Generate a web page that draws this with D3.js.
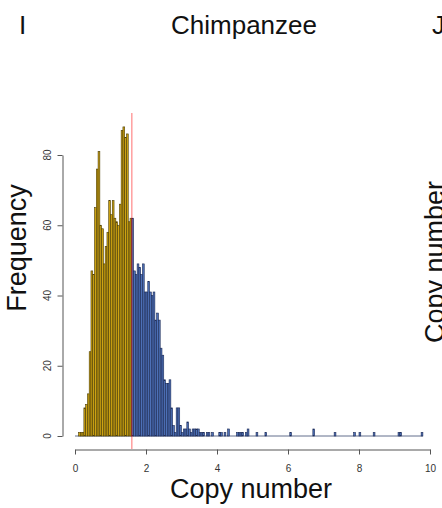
<!DOCTYPE html>
<html>
<head>
<meta charset="utf-8">
<script src="https://cdn.jsdelivr.net/npm/d3@7"></script>
<style>
  html, body { margin: 0; padding: 0; background: #fff; }
  svg { display: block; }
  text { font-family: "Liberation Sans", Arial, Helvetica, sans-serif; }
</style>
</head>
<body>
<div id="chart"></div>
<script>
// ---- Data ----
const panelTitle = "Chimpanzee";
const panelLetter = "I";
const nextPanelLetter = "J";
const xLabel = "Copy number";
const yLabel = "Frequency";
const nextPanelYLabel = "Copy number";

const binWidth = 0.05;          // histogram bin width (copy number units)
const denseStart = 0.0;         // first bin start of the dense block
const threshold = 1.6;          // red line / colour split

// counts for bins 0.00, 0.05, ... 1.55  (below threshold, yellow)
const lowCounts = [0, 0, 1, 1, 1, 8, 9, 12, 24, 47, 46, 65, 76, 81, 60, 59,
                   49, 54, 58, 67, 63, 67, 62, 61, 60, 66, 87, 88, 85, 86, 61, 62];
// counts for bins 1.60, 1.65, ... 4.85 (above threshold, blue)
const highCounts = [62, 47, 46, 49, 48, 46, 49, 41, 41, 44, 41, 40, 41, 33, 35, 33,
                    25, 23, 16, 15, 15, 16, 8, 3, 1, 8, 8, 3, 1, 2, 2, 4,
                    2, 1, 2, 2, 2, 2, 1, 1, 1, 0, 1, 1, 0, 1, 0, 0,
                    0, 1, 1, 0, 1, 0, 2, 0, 0, 0, 0, 1, 1, 1, 1, 0,
                    1, 2];
// sparse tail bins (bin start, count)
const tailBinStarts = [5.10, 5.35, 6.05, 6.70, 7.30, 7.85, 8.00, 8.40, 9.10, 9.15, 9.75];
const tailCounts    = [1, 1, 1, 2, 1, 1, 1, 1, 1, 1, 1];
const dataMax = 9.80;

const xTicks = [0, 2, 4, 6, 8, 10];
const yTicks = [0, 20, 40, 60, 80];

// ---- Build bins ----
const bins = [];
lowCounts.forEach((c, i) => bins.push({ start: denseStart + i * binWidth, count: c }));
highCounts.forEach((c, i) => bins.push({ start: threshold + i * binWidth, count: c }));
tailBinStarts.forEach((s, i) => bins.push({ start: s, count: tailCounts[i] }));

// ---- Layout ----
const W = 442, H = 508;
const svg = d3.select("#chart").append("svg").attr("width", W).attr("height", H);

const x = d3.scaleLinear().domain([0, 10]).range([75, 430]);
const y = d3.scaleLinear().domain([0, 80]).range([436, 155]);

const yellow = "#CDA312", yellowEdge = "#4a3c05";
const blue = "#4D70B7", blueEdge = "#1c2a55";

// baseline of zero-count bins
svg.append("line")
  .attr("x1", x(0)).attr("x2", x(dataMax))
  .attr("y1", y(0)).attr("y2", y(0))
  .attr("stroke", "#3a4a70").attr("stroke-width", 0.8);

// bars
svg.append("g").selectAll("rect")
  .data(bins.filter(d => d.count > 0))
  .join("rect")
  .attr("x", d => x(d.start))
  .attr("width", d => x(d.start + binWidth) - x(d.start))
  .attr("y", d => y(d.count))
  .attr("height", d => y(0) - y(d.count))
  .attr("fill", d => d.start < threshold - 1e-9 ? yellow : blue)
  .attr("stroke", d => d.start < threshold - 1e-9 ? yellowEdge : blueEdge)
  .attr("stroke-width", 0.6);

// threshold line
svg.append("line")
  .attr("x1", x(threshold)).attr("x2", x(threshold))
  .attr("y1", 113).attr("y2", 449)
  .attr("stroke", "red").attr("stroke-opacity", 0.38).attr("stroke-width", 1.5);

// x axis
const xAxis = svg.append("g").attr("transform", "translate(0,449.5)")
  .call(d3.axisBottom(x).tickValues(xTicks).tickFormat(d3.format("d"))
        .tickSize(5).tickSizeOuter(0).tickPadding(10));
xAxis.select(".domain").attr("stroke", "#555");
xAxis.selectAll(".tick line").attr("stroke", "#555");
xAxis.selectAll(".tick text").attr("font-size", 10).attr("fill", "#333")
  .attr("font-family", '"Liberation Sans", Arial, sans-serif');

// y axis
const yAxis = svg.append("g").attr("transform", "translate(62.5,0)")
  .call(d3.axisLeft(y).tickValues(yTicks).tickSize(5).tickSizeOuter(0).tickFormat(""));
yAxis.select(".domain").attr("stroke", "#555");
yAxis.selectAll(".tick line").attr("stroke", "#555");
svg.append("g").selectAll("text")
  .data(yTicks).join("text")
  .attr("transform", d => `translate(47,${y(d)}) rotate(-90)`)
  .attr("text-anchor", "middle").attr("dy", "0.35em")
  .attr("font-size", 10).attr("fill", "#333")
  .text(d => d);

// labels
svg.append("text").attr("x", 244).attr("y", 34).attr("text-anchor", "middle")
  .attr("font-size", 26).attr("fill", "#111").text(panelTitle);
svg.append("text").attr("x", 19).attr("y", 34)
  .attr("font-size", 26).attr("fill", "#111").text(panelLetter);
svg.append("text").attr("x", 432).attr("y", 34)
  .attr("font-size", 26).attr("fill", "#111").text(nextPanelLetter);
svg.append("text").attr("x", 251).attr("y", 498).attr("text-anchor", "middle")
  .attr("font-size", 27).attr("fill", "#111").text(xLabel);
svg.append("text").attr("transform", "translate(26,248) rotate(-90)")
  .attr("text-anchor", "middle")
  .attr("font-size", 27).attr("fill", "#111").text(yLabel);
svg.append("text").attr("transform", "translate(444,262) rotate(-90)")
  .attr("text-anchor", "middle")
  .attr("font-size", 27).attr("fill", "#111").text(nextPanelYLabel);
</script>
</body>
</html>
